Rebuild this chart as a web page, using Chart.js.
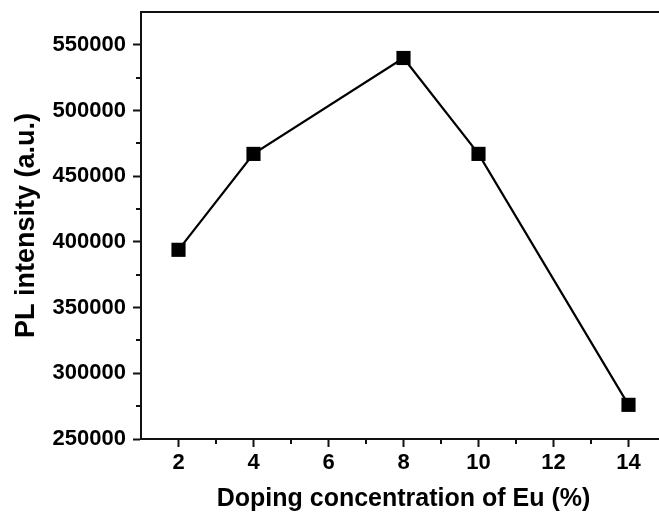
<!DOCTYPE html>
<html>
<head>
<meta charset="utf-8">
<title>PL intensity vs Eu doping</title>
<script src="https://cdn.jsdelivr.net/npm/chart.js@4"></script>
<style>
  html, body { margin: 0; padding: 0; background: #fff; overflow: hidden; }
  #wrap { width: 659px; height: 514px; overflow: hidden; }
</style>
</head>
<body>
<div id="wrap"><canvas id="plChart" width="680" height="514"></canvas></div>
<script>
// Eu doping level (%) and measured PL intensity
const euDoping = [2, 4, 8, 10, 14];
const plIntensity = [394000, 467000, 540000, 467000, 276000];

// axis ticks
const xTickValues = [2, 4, 6, 8, 10, 12, 14];
const yTickValues = [250000, 300000, 350000, 400000, 450000, 500000, 550000];
const xMinorValues = [3, 5, 7, 9, 11, 13];
const yMinorValues = [275000, 325000, 375000, 425000, 475000, 525000];

const FONT = 'Liberation Sans, Arial, sans-serif';
const INK = '#111';

// top/right frame lines and the short minor ticks
const frameAndMinorTicks = {
    id: 'frameAndMinorTicks',
    afterDraw(chart) {
        const ctx = chart.ctx;
        const area = chart.chartArea;
        const xs = chart.scales.x;
        const ys = chart.scales.y;
        ctx.save();
        ctx.strokeStyle = INK;
        ctx.lineWidth = 2;
        ctx.beginPath();
        ctx.moveTo(area.left, area.top);
        ctx.lineTo(area.right, area.top);
        ctx.lineTo(area.right, area.bottom);
        ctx.stroke();

        ctx.beginPath();
        xMinorValues.forEach(v => {
            const px = Math.round(xs.getPixelForValue(v));
            ctx.moveTo(px, area.bottom);
            ctx.lineTo(px, area.bottom + 5);
        });
        yMinorValues.forEach(v => {
            const py = Math.round(ys.getPixelForValue(v));
            ctx.moveTo(area.left, py);
            ctx.lineTo(area.left - 5, py);
        });
        ctx.stroke();
        ctx.restore();
    }
};

const tickFont = { family: FONT, size: 22, weight: 'bold' };

const ctx = document.getElementById('plChart').getContext('2d');

new Chart(ctx, {
    type: 'line',
    data: {
        datasets: [{
            data: euDoping.map((x, i) => ({ x: x, y: plIntensity[i] })),
            borderColor: '#000',
            borderWidth: 2.2,
            backgroundColor: '#000',
            pointStyle: 'rect',
            pointRadius: 10,
            pointBorderWidth: 0,
            pointBackgroundColor: '#000',
            tension: 0,
            clip: false
        }]
    },
    options: {
        responsive: false,
        animation: false,
        layout: { padding: { left: 10, top: 12, right: 14, bottom: 0 } },
        plugins: {
            legend: { display: false },
            tooltip: { enabled: false }
        },
        scales: {
            x: {
                type: 'linear',
                min: 1,
                max: 15,
                afterBuildTicks: (scale) => { scale.ticks = xTickValues.map(v => ({ value: v })); },
                afterFit: (scale) => {
                    scale.height = 75;
                    scale.paddingLeft = 0;
                    scale.paddingRight = 0;
                },
                grid: { drawOnChartArea: false, drawTicks: true, tickLength: 8, tickWidth: 2, tickColor: INK },
                border: { color: INK, width: 2 },
                ticks: { color: '#000', font: tickFont, padding: 3, autoSkip: false, maxRotation: 0 },
                title: {
                    display: true,
                    text: 'Doping concentration of Eu (%)',
                    color: '#000',
                    font: { family: FONT, size: 25, weight: 'bold' },
                    padding: 0
                }
            },
            y: {
                type: 'linear',
                min: 250000,
                max: 575000,
                afterBuildTicks: (scale) => { scale.ticks = yTickValues.map(v => ({ value: v })); },
                afterFit: (scale) => {
                    scale.width = 131;
                    scale.paddingTop = 0;
                    scale.paddingBottom = 0;
                },
                grid: { drawOnChartArea: false, drawTicks: true, tickLength: 8, tickWidth: 2, tickColor: INK },
                border: { color: INK, width: 2 },
                ticks: { color: '#000', font: tickFont, padding: 7, autoSkip: false, callback: (v) => String(v) },
                title: {
                    display: true,
                    text: 'PL intensity (a.u.)',
                    color: '#000',
                    font: { family: FONT, size: 27, weight: 'bold' },
                    padding: 0
                }
            }
        }
    },
    plugins: [frameAndMinorTicks]
});
</script>
</body>
</html>
